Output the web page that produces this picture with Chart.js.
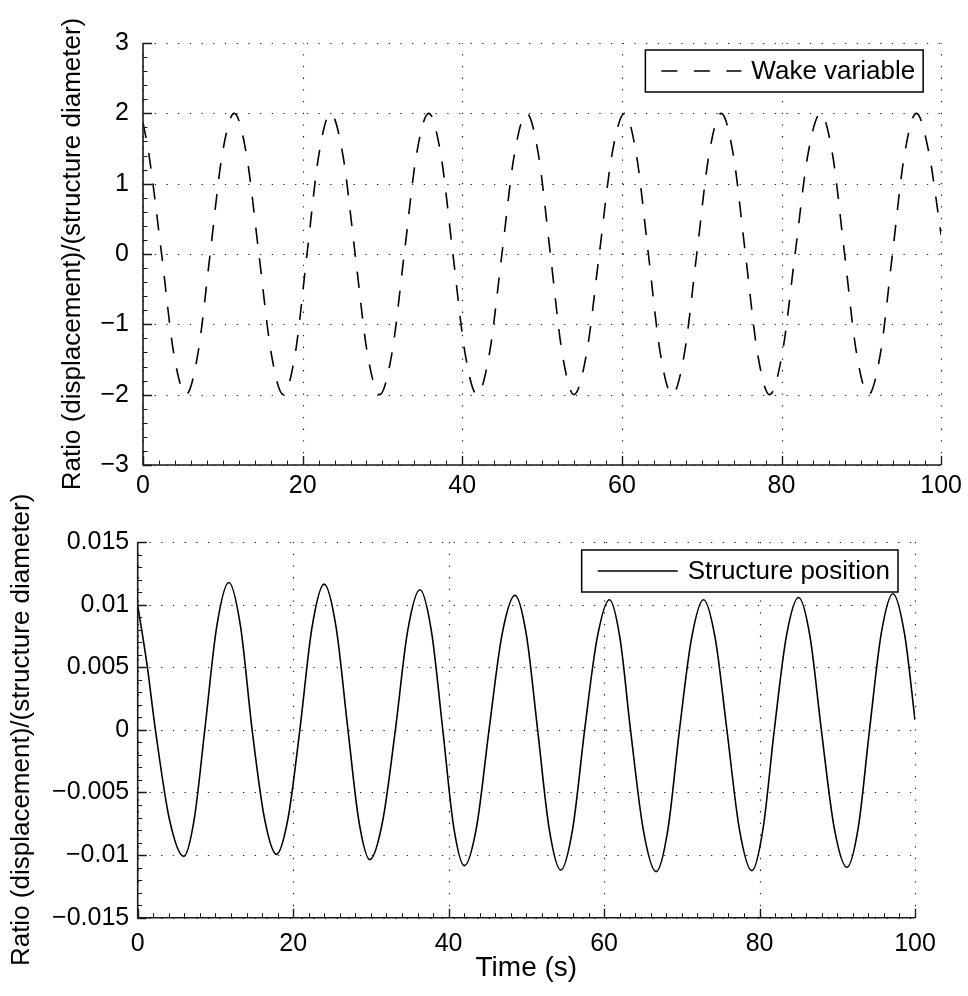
<!DOCTYPE html>
<html><head><meta charset="utf-8">
<script src="https://cdn.jsdelivr.net/npm/chart.js@4/dist/chart.umd.min.js"></script>
<style>
html,body{margin:0;padding:0;background:#fff;}
#wrap{position:relative;width:968px;height:996px;overflow:hidden;background:#fff;}
canvas{position:absolute;left:0;}
#c1{top:0;}
#c2{top:480px;}
</style></head><body>
<div id="wrap"><canvas id="c1" width="968" height="500"></canvas><canvas id="c2" width="968" height="516"></canvas></div>
<script>
const FONT = '"Liberation Sans", Arial, Helvetica, sans-serif';

// ---- tick values & labels ----
const xTicks = [0, 20, 40, 60, 80, 100];
const xTickLabels = ['0', '20', '40', '60', '80', '100'];
const wakeTicks = [-3, -2, -1, 0, 1, 2, 3];
const wakeTickLabels = ['\u22123', '\u22122', '\u22121', '0', '1', '2', '3'];
const structTicks = [-0.015, -0.01, -0.005, 0, 0.005, 0.01, 0.015];
const structTickLabels = ['\u22120.015', '\u22120.01', '\u22120.005', '0', '0.005', '0.01', '0.015'];

// ---- series: wake variable (top) ----
const wakeTime = [0, 0.75, 2.33, 3.85, 5.38, 6.89, 8.41, 9.92, 11.43, 12.97, 14.52, 16.06, 17.6, 19.08, 20.55, 22.03,
  23.5, 25.04, 26.58, 28.11, 29.65, 31.19, 32.73, 34.26, 35.8, 37.32, 38.83, 40.35, 41.86, 43.41, 44.97, 46.52,
  48.07, 49.55, 51.04, 52.52, 54.0, 55.58, 57.17, 58.75, 60.33, 61.82, 63.32, 64.81, 66.3, 67.84, 69.38, 70.91,
  72.45, 73.96, 75.48, 76.99, 78.5, 80.1, 81.7, 83.3, 84.9, 86.4, 87.9, 89.4, 90.9, 92.4, 93.9, 95.4,
  96.9, 98.45, 100];
const wakeValue = [1.87, 1.41, 0, -1.41, -2, -1.41, 0, 1.41, 2, 1.41, 0, -1.41, -2, -1.41, 0, 1.41,
  2, 1.41, 0, -1.41, -2, -1.41, 0, 1.41, 2, 1.41, 0, -1.41, -2, -1.41, 0, 1.41,
  2, 1.41, 0, -1.41, -2, -1.41, 0, 1.41, 2, 1.41, 0, -1.41, -2, -1.41, 0, 1.41,
  2, 1.41, 0, -1.41, -2, -1.41, 0, 1.41, 2, 1.41, 0, -1.41, -2, -1.41, 0, 1.41,
  2, 1.45, 0.27];

// ---- series: structure position (bottom) ----
const structTime = [0, 1.2, 2.28, 4.1, 5.92, 7.28, 8.63, 10.18, 11.72, 13.22, 14.72, 16.29, 17.85, 19.36, 20.86, 22.43,
  23.99, 25.52, 27.05, 28.46, 29.87, 31.51, 33.15, 34.73, 36.31, 37.78, 39.25, 40.64, 42.02, 43.61, 45.2, 46.87,
  48.54, 50.0, 51.45, 52.94, 54.42, 55.96, 57.5, 59.1, 60.69, 62.05, 63.4, 65.05, 66.7, 68.2, 69.7, 71.25,
  72.79, 74.3, 75.8, 77.4, 79.01, 80.45, 81.9, 83.46, 85.02, 86.48, 87.95, 89.6, 91.24, 92.7, 94.15, 95.66,
  97.17, 98.67, 100];
const structValue = [0.00994, 0.0052, 0, -0.0072, -0.0101, -0.0071, 0, 0.0083, 0.01177, 0.0083, 0, -0.0070, -0.00994, -0.0070, 0, 0.0082,
  0.01164, 0.0082, 0, -0.0073, -0.01036, -0.0073, 0, 0.0079, 0.01119, 0.0079, 0, -0.0077, -0.01084, -0.0077, 0, 0.0076,
  0.01074, 0.0076, 0, -0.0079, -0.01119, -0.0079, 0, 0.0073, 0.01039, 0.0073, 0, -0.0080, -0.01132, -0.0080, 0, 0.0073,
  0.01039, 0.0073, 0, -0.0079, -0.01124, -0.0079, 0, 0.0075, 0.01057, 0.0075, 0, -0.0078, -0.01097, -0.0078, 0, 0.0077,
  0.01087, 0.0076, 0.0008];

const yTitle = 'Ratio (displacement)/(structure diameter)';
const xTitle = 'Time (s)';

function zip(t, v) { return t.map((x, i) => ({x: x, y: v[i]})); }
function labelFor(ticks, labels) {
  return (val) => { const i = ticks.findIndex(t => Math.abs(t - val) < 1e-9); return i >= 0 ? labels[i] : ''; };
}

function matPlugin(cfg) {
  return {
    id: 'matAxes',
    beforeDatasetsDraw(chart) {
      const {ctx, chartArea: a, scales: {x, y}} = chart;
      ctx.save();
      ctx.strokeStyle = '#222';
      ctx.lineWidth = 1.2;
      ctx.setLineDash([1.3, 10.4]);
      cfg.xt.forEach(v => {
        const px = Math.round(x.getPixelForValue(v)) + 0.5;
        ctx.beginPath(); ctx.moveTo(px, a.bottom); ctx.lineTo(px, a.top); ctx.stroke();
      });
      cfg.yt.forEach(v => {
        const py = Math.round(y.getPixelForValue(v)) + 0.5;
        ctx.beginPath(); ctx.moveTo(a.left, py); ctx.lineTo(a.right, py); ctx.stroke();
      });
      ctx.restore();
    },
    afterDatasetsDraw(chart) {
      const {ctx, chartArea: a, scales: {x, y}} = chart;
      ctx.save();
      ctx.setLineDash([]);
      ctx.strokeStyle = '#1a1a1a';
      // minor ticks
      ctx.lineWidth = 1;
      ctx.beginPath();
      let n = Math.round((cfg.xMax - cfg.xMin) / cfg.xMinor);
      for (let i = 0; i <= n; i++) {
        const px = Math.round(x.getPixelForValue(cfg.xMin + i * cfg.xMinor)) + 0.5;
        ctx.moveTo(px, a.bottom); ctx.lineTo(px, a.bottom - 4.5);
      }
      n = Math.round((cfg.yMax - cfg.yMin) / cfg.yMinor);
      for (let i = 0; i <= n; i++) {
        const py = Math.round(y.getPixelForValue(cfg.yMin + i * cfg.yMinor)) + 0.5;
        ctx.moveTo(a.left, py); ctx.lineTo(a.left + 4.5, py);
      }
      ctx.stroke();
      // major ticks
      ctx.lineWidth = 1.4;
      ctx.beginPath();
      cfg.xt.forEach(v => {
        const px = Math.round(x.getPixelForValue(v)) + 0.5;
        ctx.moveTo(px, a.bottom); ctx.lineTo(px, a.bottom - 9);
      });
      cfg.yt.forEach(v => {
        const py = Math.round(y.getPixelForValue(v)) + 0.5;
        ctx.moveTo(a.left, py); ctx.lineTo(a.left + 9, py);
      });
      ctx.stroke();
      // spines (left and bottom)
      ctx.lineWidth = 1.6;
      ctx.beginPath();
      ctx.moveTo(a.left, a.top); ctx.lineTo(a.left, a.bottom); ctx.lineTo(a.right, a.bottom);
      ctx.stroke();
      // legend box
      const lg = cfg.legend;
      ctx.font = '26px ' + FONT;
      const tw = ctx.measureText(lg.text).width;
      const w = 16 + 80 + 10 + tw + 8, h = 42;
      const bx = a.right - lg.right - w, by = a.top + lg.top;
      ctx.fillStyle = '#fff';
      ctx.fillRect(bx, by, w, h);
      ctx.strokeStyle = '#000';
      ctx.lineWidth = 1.5;
      ctx.strokeRect(bx, by, w, h);
      ctx.lineWidth = 1.6;
      ctx.setLineDash(lg.dash);
      ctx.beginPath(); ctx.moveTo(bx + 16, by + h / 2); ctx.lineTo(bx + 96, by + h / 2); ctx.stroke();
      ctx.setLineDash([]);
      ctx.fillStyle = '#000';
      ctx.textBaseline = 'middle';
      ctx.textAlign = 'left';
      ctx.fillText(lg.text, bx + 106, by + h / 2 + 1);
      ctx.restore();
    }
  };
}

function makeChart(id, o) {
  return new Chart(document.getElementById(id), {
    type: 'line',
    data: {
      datasets: [{
        label: o.label,
        data: zip(o.t, o.v),
        borderColor: '#000',
        borderWidth: 1.6,
        borderDash: o.dash,
        pointRadius: 0,
        fill: false,
        cubicInterpolationMode: 'monotone'
      }]
    },
    options: {
      responsive: false,
      animation: false,
      devicePixelRatio: 1,
      layout: {padding: o.pad},
      plugins: {legend: {display: false}, tooltip: {enabled: false}},
      scales: {
        x: {
          type: 'linear', min: 0, max: 100,
          afterBuildTicks: s => { s.ticks = xTicks.map(v => ({value: v})); },
          afterFit: s => { s.height = o.xH; },
          grid: {display: false, drawTicks: false},
          border: {display: false},
          ticks: {color: '#000', font: {family: FONT, size: 25}, padding: o.xPad, maxRotation: 0,
                  callback: labelFor(xTicks, xTickLabels)},
          title: {display: !!o.xTitle, text: o.xTitle || '', color: '#000',
                  font: {family: FONT, size: 28}, padding: {top: 0, bottom: 11}}
        },
        y: {
          type: 'linear', min: o.yt[0], max: o.yt[o.yt.length - 1],
          afterBuildTicks: s => { s.ticks = o.yt.map(v => ({value: v})); },
          afterFit: s => { s.width = o.yW; },
          grid: {display: false, drawTicks: false},
          border: {display: false},
          ticks: {color: '#000', font: {family: FONT, size: 25}, padding: o.yPad,
                  callback: labelFor(o.yt, o.ytl)},
          title: {display: true, text: yTitle, color: '#000',
                  font: {family: FONT, size: 26}, padding: {top: o.titlePad, bottom: 0}}
        }
      }
    },
    plugins: [matPlugin({
      xt: xTicks, yt: o.yt, xMin: 0, xMax: 100, xMinor: 2,
      yMin: o.yt[0], yMax: o.yt[o.yt.length - 1], yMinor: o.yMinor,
      legend: o.legend
    })]
  });
}

makeChart('c1', {
  label: 'Wake variable', t: wakeTime, v: wakeValue, dash: [16, 15],
  pad: {top: 43, right: 25, left: 0, bottom: 0}, xH: 35, yW: 143, xPad: 6, yPad: 14, titlePad: 57,
  yt: wakeTicks, ytl: wakeTickLabels, yMinor: 0.2,
  legend: {text: 'Wake variable', dash: [16, 16.5], right: 18, top: 7}
});

makeChart('c2', {
  label: 'Structure position', t: structTime, v: structValue, dash: [],
  pad: {top: 62, right: 53, left: 0, bottom: 0}, xH: 78.3, yW: 137.7, xPad: 11, yPad: 8.5, titlePad: 6,
  yt: structTicks, ytl: structTickLabels, yMinor: 0.001, xTitle: xTitle,
  legend: {text: 'Structure position', dash: [], right: 17, top: 8}
});
</script>
</body></html>
